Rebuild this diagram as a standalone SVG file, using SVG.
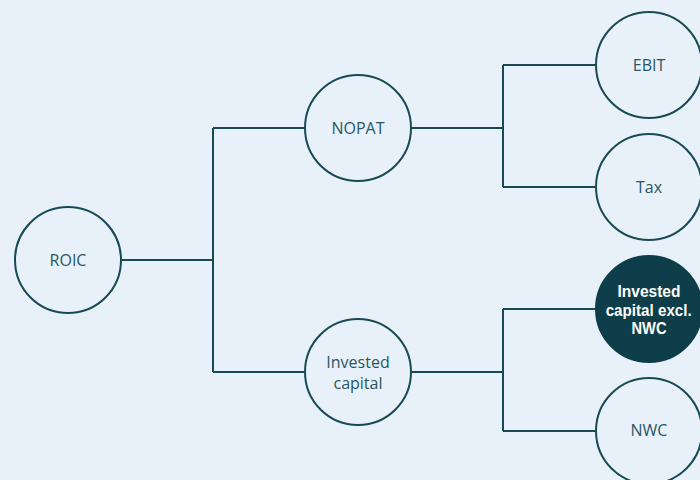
<svg xmlns="http://www.w3.org/2000/svg" width="700" height="480" viewBox="0 0 700 480">
<style>
.n{fill:none;stroke:#184a56;stroke-width:2}
.f{fill:#0d3e49;stroke:#0d3e49;stroke-width:2}
.t{font-family:"Open Sans","Noto Sans",sans-serif;font-size:16px;fill:#2a5662;text-anchor:middle}
.b{font-family:"Liberation Sans",Arial,sans-serif;font-weight:bold;font-size:16.5px;fill:#ffffff;text-anchor:middle}
.c{fill:none;stroke:#184a56;stroke-width:2}
</style>
<rect width="700" height="480" fill="#e8f1f9"/>
<g id="connectors">
<path class="c" d="M121 260H213M213 128V372M213 128H305M213 372H305"/>
<path class="c" d="M411 128H503M503 65V187M503 65H596M503 187H596"/>
<path class="c" d="M411 372H503M503 309V431M503 309H596M503 431H596"/>
</g>
<g id="roic"><circle class="n" cx="68" cy="260" r="53"/><text class="t" x="68" y="266">ROIC</text></g>
<g id="nopat"><circle class="n" cx="358" cy="128" r="53"/><text class="t" x="358" y="134">NOPAT</text></g>
<g id="invested"><circle class="n" cx="358" cy="372" r="53"/><text class="t" x="358" y="368">Invested</text><text class="t" x="358" y="389">capital</text></g>
<g id="ebit"><circle class="n" cx="649" cy="65" r="53"/><text class="t" x="649" y="71">EBIT</text></g>
<g id="tax"><circle class="n" cx="649" cy="187" r="53"/><text class="t" x="649" y="193">Tax</text></g>
<g id="icexcl"><circle class="f" cx="649" cy="309" r="53"/><text class="b" x="649" y="296.5" textLength="63" lengthAdjust="spacingAndGlyphs">Invested</text><text class="b" x="648.7" y="315.5" textLength="86" lengthAdjust="spacingAndGlyphs">capital excl.</text><text class="b" x="649" y="333.5" textLength="35" lengthAdjust="spacingAndGlyphs">NWC</text></g>
<g id="nwc"><circle class="n" cx="649" cy="431" r="53"/><text class="t" x="649" y="436">NWC</text></g>
</svg>
